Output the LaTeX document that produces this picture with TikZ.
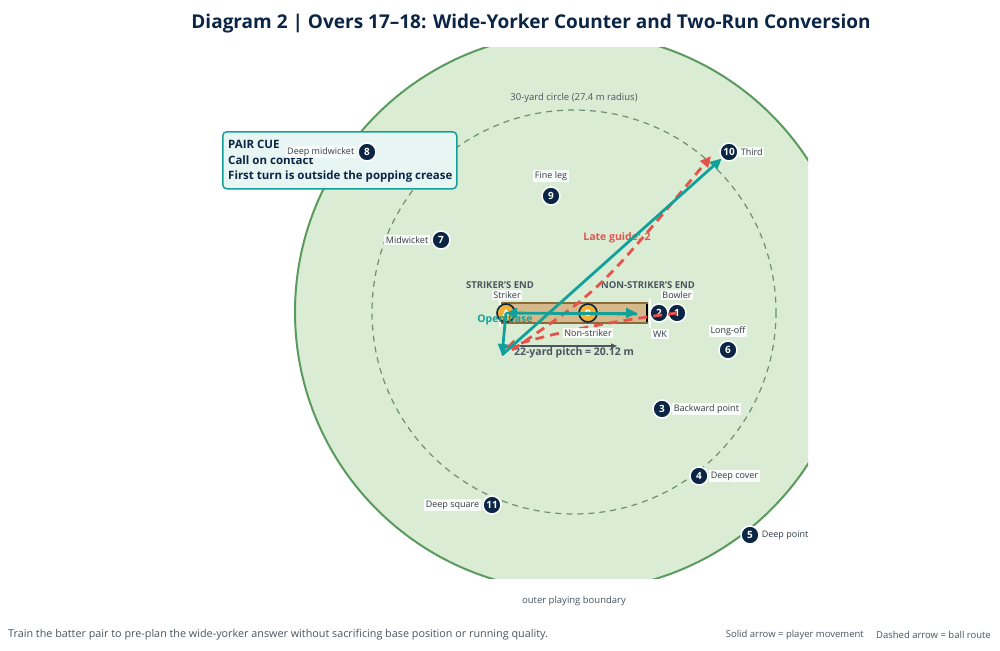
\documentclass[tikz,border=0pt]{standalone}
\usepackage{fontspec}
\setmainfont{Open Sans}
\usetikzlibrary{arrows.meta}
\definecolor{navy}{HTML}{0B2545}
\definecolor{fieldfill}{HTML}{DAEDD4}
\definecolor{fieldline}{HTML}{5B9A5F}
\definecolor{innerline}{HTML}{6E8E70}
\definecolor{tealc}{HTML}{12A19A}
\definecolor{redc}{HTML}{E5534B}
\definecolor{pitchfill}{HTML}{D6B98A}
\definecolor{pitchline}{HTML}{8B6B3A}
\definecolor{batfill}{HTML}{F2B134}
\definecolor{graytext}{HTML}{4A5560}
\definecolor{lblgray}{HTML}{333B45}
\definecolor{cuefill}{HTML}{E8F6F3}
\tikzset{
  fielder/.style={circle, fill=navy, draw=white, line width=1.5pt, minimum size=18pt, inner sep=0pt,
    text=white, font=\fontsize{10}{10}\selectfont\bfseries},
  batter/.style={circle, fill=batfill, draw=navy, line width=1.6pt, minimum size=18pt, inner sep=0pt,
    text=white, font=\fontsize{9}{9}\selectfont\bfseries},
  lbl/.style={fill=white, fill opacity=0.85, text opacity=1, inner sep=1.6pt, text=lblgray,
    font=\fontsize{9}{10}\selectfont},
  endlbl/.style={text=graytext, font=\fontsize{9.5}{10}\selectfont\bfseries, inner sep=0pt},
  mvarrow/.style={draw=tealc, line width=2.8pt, -{Triangle[length=11pt,width=10pt]}},
  ballarrow/.style={draw=redc, line width=2.8pt, dash pattern=on 9pt off 6pt, -{Triangle[length=11pt,width=10pt]}},
  smalltext/.style={text=graytext, font=\fontsize{9.5}{10}\selectfont, inner sep=0pt},
}
\begin{document}
\begin{tikzpicture}[x=1pt,y=-1pt]
\useasboundingbox (0,0) rectangle (1000,650);
\fill[white] (0,0) rectangle (1000,650);
% title
\node[text=navy, font=\fontsize{19}{22}\selectfont\bfseries, inner sep=0pt] (title) at (531,24)
  {Diagram 2 | Overs 17–18: Wide-Yorker Counter and Two-Run Conversion};
% field
\begin{scope}
\clip (200,48) rectangle (808,578);
\draw[fill=fieldfill, draw=fieldline, line width=2pt] (574,312) circle[radius=279];
\end{scope}
\draw[innerline, line width=1.2pt, dash pattern=on 6pt off 5pt] (574,312) circle[radius=202];
\node[smalltext] (innerlbl) at (574,98) {30-yard circle (27.4 m radius)};
\node[smalltext] (outerlbl) at (574,601) {outer playing boundary};
% pitch
\draw[fill=pitchfill, draw=pitchline, line width=1.2pt] (500,303) rectangle (647,323);
\draw[white, line width=1.5pt] (500,299) -- (500,327);
\draw[white, line width=1.5pt] (650,299) -- (650,328);
\draw[black, line width=1.5pt] (647,304) -- (647,322);
% pair cue box
\node[draw=tealc, fill=cuefill, line width=1.5pt, rounded corners=4pt, minimum width=234pt, minimum height=57pt,
  anchor=north west, inner sep=0pt] (cue) at (222,131) {};
\node[anchor=north west, text=navy, font=\fontsize{11.5}{15.5}\selectfont\bfseries, align=left, inner sep=0pt] (cuetext) at (228,140)
  {PAIR CUE\\Call on contact\\First turn is outside the popping crease};
% end labels
\node[endlbl] (send) at (500,285) {STRIKER'S END};
\node[endlbl] (nsend) at (648,285) {NON-STRIKER'S END};
% batters
\node[batter] (A) at (506,313) {A};
\node[batter] (B) at (588,313) {B};
% fielders
\node[fielder] (F2) at (659,313) {2};
\node[fielder] (F1) at (677,313) {1};
\node[fielder] (F3) at (662,409) {3};
\node[fielder] (F4) at (699,476) {4};
\node[fielder] (F5) at (750,535) {5};
\node[fielder] (F6) at (728,350) {6};
\node[fielder] (F7) at (441,240) {7};
\node[fielder] (F9) at (551,196) {9};
\node[fielder] (F10) at (729,152) {10};
\node[fielder] (F11) at (492,505) {11};
% annotations under arrows
\node[text=tealc, font=\fontsize{10.5}{11}\selectfont\bfseries, inner sep=0pt] (openbase) at (505,320) {Open base};
\node[text=redc, font=\fontsize{10.5}{11}\selectfont\bfseries, inner sep=0pt] (lateguide) at (617,238) {Late guide: 2};
\node[text=graytext, font=\fontsize{10.5}{11}\selectfont\bfseries, inner sep=0pt] (pitchlen) at (574,353) {22-yard pitch = 20.12 m};
\coordinate (pl1) at (516,346);
\coordinate (pl2) at (617,346);
\draw[graytext, line width=1.2pt, -{Triangle[length=6pt,width=5pt]}] (pl1) -- (pl2);
% arrows
\coordinate (runEnd) at (637,313);
\coordinate (turnS) at (502,355);
\coordinate (ballA) at (505,348);
\coordinate (gStart) at (512,350);
\coordinate (gCtrl) at (600,290);
\coordinate (gEnd) at (711,156);
\draw[ballarrow] (F1.center) .. controls (620,320) and (560,331) .. (ballA);
\draw[ballarrow] (gStart) .. controls (gCtrl) .. (gEnd);
\draw[mvarrow] (A.center) -- (runEnd);
\draw[mvarrow] ([yshift=-1pt]runEnd) -- (A.center);
\draw[mvarrow] (A.center) -- (turnS);
\draw[mvarrow] (turnS) -- (F10);
% labels
\node[lbl] (lb1) at (677,295) {Bowler};
\node[lbl] (lb2) at (660,334) {WK};
\node[lbl, anchor=west] (lb3) at (672,409) {Backward point};
\node[lbl, anchor=west] (lb4) at (709,476) {Deep cover};
\node[lbl, anchor=west] (lb5) at (760,535) {Deep point};
\node[lbl] (lb6) at (728,331) {Long-off};
\node[lbl, anchor=east] (lb7) at (430,240) {Midwicket};
\node[lbl] (lb9) at (551,176) {Fine leg};
\node[lbl, anchor=west] (lb10) at (739,152) {Third};
\node[lbl, anchor=east] (lb11) at (481,505) {Deep square};
\node[lbl] (lbA) at (507,295) {Striker};
\node[lbl] (lbB) at (588,333) {Non-striker};
\node[lbl, anchor=east] (lb8) at (356,152) {Deep midwicket};
\node[fielder] (F8) at (367,152) {8};
% footer
\node[anchor=west, text=graytext, font=\fontsize{10.8}{12}\selectfont, inner sep=0pt] (caption) at (8,635)
  {Train the batter pair to pre-plan the wide-yorker answer without sacrificing base position or running quality.};
\node[anchor=east, text=graytext, font=\fontsize{9.5}{12}\selectfont, inner sep=0pt] (leg2) at (991,635) {Dashed arrow = ball route};
\node[anchor=east, text=graytext, font=\fontsize{9.5}{12}\selectfont, inner sep=0pt] (leg1) at (864,635) {Solid arrow = player movement};
\end{tikzpicture}
\end{document}
